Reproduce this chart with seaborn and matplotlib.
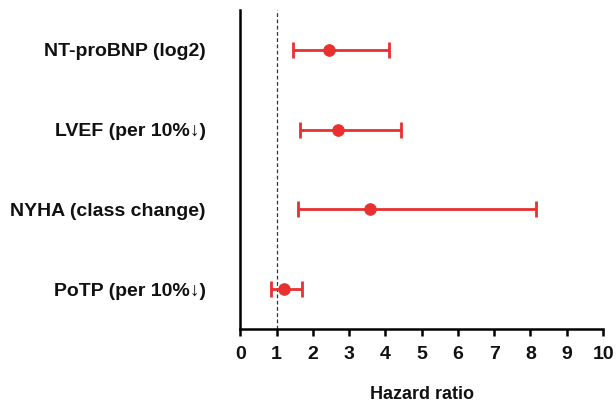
import matplotlib
matplotlib.use("Agg")
import matplotlib.pyplot as plt
import seaborn as sns
import pandas as pd

categories = ["NT-proBNP (log2)", "LVEF (per 10%\u2193)", "NYHA (class change)", "PoTP (per 10%\u2193)"]
hr = [2.44, 2.70, 3.58, 1.21]
lower = [1.46, 1.65, 1.60, 0.86]
upper = [4.10, 4.43, 8.15, 1.69]
xticks = list(range(0, 11))

sns.set_theme(style="white")
plt.rcParams['font.family'] = ['Liberation Sans', 'DejaVu Sans']
plt.rcParams['font.weight'] = 'bold'
plt.rcParams['text.color'] = '#111111'
plt.rcParams['xtick.color'] = '#111111'
plt.rcParams['ytick.color'] = '#111111'
plt.rcParams['axes.labelcolor'] = '#111111'

df = pd.DataFrame({"cat": categories, "hr": hr, "lo": lower, "hi": upper})

fig = plt.figure(figsize=(6.16, 4.05), dpi=100)
ax = fig.add_axes([0.39, 0.188, 0.589, 0.787])
red = "#e8302f"

ax.axvline(1, color="#333333", lw=0.9, ls=(0, (3, 2)), zorder=1)
sns.scatterplot(data=df, x="hr", y="cat", ax=ax, color=red, s=70, edgecolor=red, zorder=3, legend=False)
ypos = list(range(len(categories)))
ax.errorbar(df["hr"], ypos,
            xerr=[df["hr"] - df["lo"], df["hi"] - df["hr"]],
            fmt="none", ecolor=red, elinewidth=2, capsize=5.5, capthick=2, zorder=2)

ax.set_xlim(0, 10)
ax.set_ylim(3.5, -0.5)
ax.set_xticks(xticks)
ax.set_xticklabels([str(t) for t in xticks], fontsize=14, fontweight='bold')
ax.set_yticks(ypos)
ax.set_yticklabels(categories, fontsize=14, fontweight='bold')
ax.set_ylabel("")
ax.set_xlabel("Hazard ratio", fontsize=13, fontweight='bold', labelpad=17)
sns.despine(ax=ax)
for s in ["left", "bottom"]:
    ax.spines[s].set_linewidth(1.8)
    ax.spines[s].set_color("black")
ax.tick_params(axis="x", direction="out", length=5, width=1.8, color="black", pad=7, bottom=True)
ax.tick_params(axis="y", length=0, pad=25)

fig.savefig("out.png", dpi=100)
